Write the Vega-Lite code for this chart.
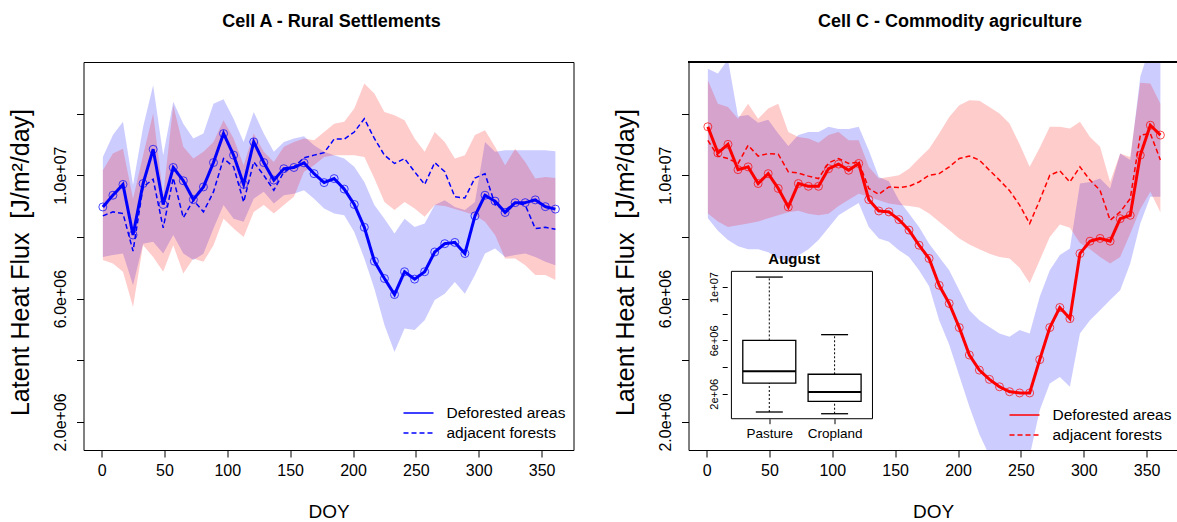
{
  "$schema": "https://vega.github.io/schema/vega-lite/v6.json",
  "background": "white",
  "autosize": {"type": "pad"},
  "padding": {"left": 7.5, "top": 12, "right": 0, "bottom": 0},
  "bounds": "flush",
  "spacing": 115,
  "config": {
    "font": "Liberation Sans",
    "view": {"stroke": "black", "strokeWidth": 1},
    "axis": {
      "domain": false, "grid": false, "ticks": true, "tickColor": "black", "tickSize": 7, "tickWidth": 1,
      "labelFont": "Liberation Sans", "labelFontSize": 16, "labelColor": "black", "labelOverlap": false, "labelFlush": false,
      "titleFont": "Liberation Sans", "titleFontSize": 19, "titleFontWeight": "normal", "titleColor": "black"
    },
    "axisX": {"labelPadding": 5, "titlePadding": 24},
    "axisY": {
      "labelAngle": 270, "labelAlign": "center", "labelBaseline": "bottom", "labelPadding": 8,
      "titleFontSize": 25,
      "titleX": -63, "titleY": 200, "titleAngle": 270, "titleAlign": "center", "titleBaseline": "middle"
    },
    "legend": {"labelFont": "Liberation Sans", "labelFontSize": 15.5, "labelColor": "black"},
    "title": {"font": "Liberation Sans", "fontSize": 18, "fontWeight": "bold", "color": "black", "offset": 31, "anchor": "middle"}
  },
  "datasets": {
    "cellA": [
      {"doy": 1, "def": 8.97e6, "adj": 8.68e6, "bHi": 10.59e6, "bLo": 7.35e6, "rHi": 10.16e6, "rLo": 7.25e6},
      {"doy": 9, "def": 9.35e6, "adj": 8.81e6, "bHi": 11.30e6, "bLo": 7.41e6, "rHi": 10.70e6, "rLo": 7.14e6},
      {"doy": 17, "def": 9.70e6, "adj": 8.76e6, "bHi": 11.73e6, "bLo": 7.46e6, "rHi": 10.86e6, "rLo": 6.87e6},
      {"doy": 25, "def": 8.06e6, "adj": 7.54e6, "bHi": 9.68e6, "bLo": 6.43e6, "rHi": 9.24e6, "rLo": 5.73e6},
      {"doy": 33, "def": 9.73e6, "adj": 9.62e6, "bHi": 11.56e6, "bLo": 7.78e6, "rHi": 10.65e6, "rLo": 7.73e6},
      {"doy": 41, "def": 10.84e6, "adj": 9.87e6, "bHi": 12.92e6, "bLo": 7.84e6, "rHi": 12.00e6, "rLo": 7.35e6},
      {"doy": 49, "def": 9.05e6, "adj": 8.29e6, "bHi": 10.65e6, "bLo": 7.46e6, "rHi": 9.35e6, "rLo": 6.87e6},
      {"doy": 57, "def": 10.25e6, "adj": 9.91e6, "bHi": 12.38e6, "bLo": 8.06e6, "rHi": 12.27e6, "rLo": 7.73e6},
      {"doy": 65, "def": 9.82e6, "adj": 8.62e6, "bHi": 11.67e6, "bLo": 7.46e6, "rHi": 10.92e6, "rLo": 6.81e6},
      {"doy": 73, "def": 9.21e6, "adj": 9.19e6, "bHi": 11.19e6, "bLo": 7.25e6, "rHi": 10.54e6, "rLo": 7.30e6},
      {"doy": 81, "def": 9.62e6, "adj": 8.81e6, "bHi": 11.35e6, "bLo": 7.45e6, "rHi": 10.76e6, "rLo": 7.19e6},
      {"doy": 89, "def": 10.41e6, "adj": 9.46e6, "bHi": 12.32e6, "bLo": 8.27e6, "rHi": 11.08e6, "rLo": 7.73e6},
      {"doy": 97, "def": 11.35e6, "adj": 10.54e6, "bHi": 12.46e6, "bLo": 9.03e6, "rHi": 11.78e6, "rLo": 8.59e6},
      {"doy": 105, "def": 10.65e6, "adj": 10.27e6, "bHi": 11.83e6, "bLo": 8.59e6, "rHi": 11.19e6, "rLo": 8.27e6},
      {"doy": 113, "def": 9.70e6, "adj": 9.13e6, "bHi": 11.08e6, "bLo": 8.49e6, "rHi": 10.32e6, "rLo": 8.00e6},
      {"doy": 121, "def": 11.08e6, "adj": 10.43e6, "bHi": 12.05e6, "bLo": 9.24e6, "rHi": 11.35e6, "rLo": 8.81e6},
      {"doy": 129, "def": 10.41e6, "adj": 10.00e6, "bHi": 11.35e6, "bLo": 9.46e6, "rHi": 10.76e6, "rLo": 9.03e6},
      {"doy": 137, "def": 9.84e6, "adj": 9.51e6, "bHi": 10.76e6, "bLo": 9.08e6, "rHi": 10.43e6, "rLo": 8.76e6},
      {"doy": 145, "def": 10.21e6, "adj": 10.11e6, "bHi": 11.08e6, "bLo": 9.35e6, "rHi": 10.92e6, "rLo": 9.03e6},
      {"doy": 153, "def": 10.25e6, "adj": 10.27e6, "bHi": 11.19e6, "bLo": 9.40e6, "rHi": 11.08e6, "rLo": 9.30e6},
      {"doy": 161, "def": 10.40e6, "adj": 10.56e6, "bHi": 11.26e6, "bLo": 9.51e6, "rHi": 11.19e6, "rLo": 10.11e6},
      {"doy": 169, "def": 10.05e6, "adj": 10.65e6, "bHi": 10.97e6, "bLo": 9.24e6, "rHi": 11.13e6, "rLo": 10.32e6},
      {"doy": 177, "def": 9.76e6, "adj": 10.73e6, "bHi": 10.76e6, "bLo": 8.92e6, "rHi": 11.40e6, "rLo": 10.59e6},
      {"doy": 185, "def": 9.89e6, "adj": 11.17e6, "bHi": 10.65e6, "bLo": 8.76e6, "rHi": 11.67e6, "rLo": 10.65e6},
      {"doy": 193, "def": 9.55e6, "adj": 11.17e6, "bHi": 10.54e6, "bLo": 8.70e6, "rHi": 11.73e6, "rLo": 10.65e6},
      {"doy": 201, "def": 9.05e6, "adj": 11.40e6, "bHi": 10.27e6, "bLo": 8.16e6, "rHi": 12.16e6, "rLo": 10.65e6},
      {"doy": 209, "def": 8.31e6, "adj": 11.83e6, "bHi": 9.78e6, "bLo": 7.30e6, "rHi": 12.97e6, "rLo": 10.59e6},
      {"doy": 217, "def": 7.21e6, "adj": 11.19e6, "bHi": 9.03e6, "bLo": 6.32e6, "rHi": 12.65e6, "rLo": 9.89e6},
      {"doy": 225, "def": 6.65e6, "adj": 10.65e6, "bHi": 8.59e6, "bLo": 5.14e6, "rHi": 12.05e6, "rLo": 9.13e6},
      {"doy": 233, "def": 6.13e6, "adj": 10.38e6, "bHi": 8.11e6, "bLo": 4.27e6, "rHi": 11.94e6, "rLo": 8.87e6},
      {"doy": 241, "def": 6.87e6, "adj": 10.54e6, "bHi": 8.59e6, "bLo": 5.03e6, "rHi": 11.78e6, "rLo": 9.13e6},
      {"doy": 249, "def": 6.63e6, "adj": 10.11e6, "bHi": 8.32e6, "bLo": 4.98e6, "rHi": 11.19e6, "rLo": 8.92e6},
      {"doy": 257, "def": 6.87e6, "adj": 9.70e6, "bHi": 8.43e6, "bLo": 5.30e6, "rHi": 10.76e6, "rLo": 8.65e6},
      {"doy": 265, "def": 7.51e6, "adj": 10.41e6, "bHi": 9.03e6, "bLo": 5.95e6, "rHi": 11.40e6, "rLo": 9.03e6},
      {"doy": 273, "def": 7.78e6, "adj": 10.11e6, "bHi": 9.19e6, "bLo": 6.16e6, "rHi": 11.08e6, "rLo": 9.00e6},
      {"doy": 281, "def": 7.82e6, "adj": 9.30e6, "bHi": 8.97e6, "bLo": 6.54e6, "rHi": 10.54e6, "rLo": 8.90e6},
      {"doy": 289, "def": 7.46e6, "adj": 9.26e6, "bHi": 8.87e6, "bLo": 6.16e6, "rHi": 10.65e6, "rLo": 8.81e6},
      {"doy": 297, "def": 8.68e6, "adj": 9.91e6, "bHi": 9.13e6, "bLo": 6.76e6, "rHi": 11.30e6, "rLo": 8.70e6},
      {"doy": 305, "def": 9.35e6, "adj": 10.05e6, "bHi": 11.08e6, "bLo": 7.46e6, "rHi": 11.46e6, "rLo": 8.49e6},
      {"doy": 313, "def": 9.16e6, "adj": 9.05e6, "bHi": 10.76e6, "bLo": 7.62e6, "rHi": 10.92e6, "rLo": 8.06e6},
      {"doy": 321, "def": 8.79e6, "adj": 8.87e6, "bHi": 10.81e6, "bLo": 7.35e6, "rHi": 10.32e6, "rLo": 7.30e6},
      {"doy": 329, "def": 9.11e6, "adj": 9.11e6, "bHi": 10.81e6, "bLo": 7.41e6, "rHi": 10.86e6, "rLo": 7.30e6},
      {"doy": 337, "def": 9.11e6, "adj": 9.03e6, "bHi": 10.81e6, "bLo": 7.46e6, "rHi": 10.43e6, "rLo": 7.08e6},
      {"doy": 345, "def": 9.20e6, "adj": 8.27e6, "bHi": 10.81e6, "bLo": 7.35e6, "rHi": 9.89e6, "rLo": 6.76e6},
      {"doy": 353, "def": 8.98e6, "adj": 8.31e6, "bHi": 10.81e6, "bLo": 7.19e6, "rHi": 9.94e6, "rLo": 6.76e6},
      {"doy": 361, "def": 8.90e6, "adj": 8.25e6, "bHi": 10.78e6, "bLo": 7.08e6, "rHi": 9.91e6, "rLo": 6.60e6}
    ],
    "cellC": [
      {"doy": 1, "def": 11.57e6, "adj": 11.13e6, "bHi": 13.45e6, "bLo": 8.6e6, "rHi": 13.08e6, "rLo": 8.76e6},
      {"doy": 9, "def": 10.72e6, "adj": 10.62e6, "bHi": 13.30e6, "bLo": 8.2e6, "rHi": 12.32e6, "rLo": 8.5e6},
      {"doy": 17, "def": 11.00e6, "adj": 10.54e6, "bHi": 13.75e6, "bLo": 7.9e6, "rHi": 12.21e6, "rLo": 8.32e6},
      {"doy": 25, "def": 10.18e6, "adj": 10.38e6, "bHi": 11.90e6, "bLo": 7.7e6, "rHi": 11.83e6, "rLo": 8.38e6},
      {"doy": 33, "def": 10.27e6, "adj": 10.97e6, "bHi": 11.95e6, "bLo": 7.6e6, "rHi": 12.32e6, "rLo": 8.43e6},
      {"doy": 41, "def": 9.73e6, "adj": 10.62e6, "bHi": 11.70e6, "bLo": 7.6e6, "rHi": 11.83e6, "rLo": 8.5e6},
      {"doy": 49, "def": 10.05e6, "adj": 10.70e6, "bHi": 11.80e6, "bLo": 7.5e6, "rHi": 12.16e6, "rLo": 8.6e6},
      {"doy": 57, "def": 9.57e6, "adj": 10.68e6, "bHi": 11.35e6, "bLo": 7.3e6, "rHi": 12.32e6, "rLo": 8.7e6},
      {"doy": 65, "def": 8.97e6, "adj": 10.11e6, "bHi": 10.95e6, "bLo": 7.2e6, "rHi": 11.40e6, "rLo": 8.8e6},
      {"doy": 73, "def": 9.73e6, "adj": 10.07e6, "bHi": 11.30e6, "bLo": 7.4e6, "rHi": 11.24e6, "rLo": 8.85e6},
      {"doy": 81, "def": 9.64e6, "adj": 9.97e6, "bHi": 11.40e6, "bLo": 7.6e6, "rHi": 11.19e6, "rLo": 8.75e6},
      {"doy": 89, "def": 9.64e6, "adj": 9.89e6, "bHi": 11.40e6, "bLo": 7.9e6, "rHi": 11.05e6, "rLo": 8.7e6},
      {"doy": 97, "def": 10.21e6, "adj": 10.40e6, "bHi": 11.57e6, "bLo": 8.3e6, "rHi": 11.30e6, "rLo": 8.75e6},
      {"doy": 105, "def": 10.36e6, "adj": 10.54e6, "bHi": 11.50e6, "bLo": 8.7e6, "rHi": 11.40e6, "rLo": 9.0e6},
      {"doy": 113, "def": 10.16e6, "adj": 10.38e6, "bHi": 11.50e6, "bLo": 8.9e6, "rHi": 11.13e6, "rLo": 9.2e6},
      {"doy": 121, "def": 10.38e6, "adj": 10.43e6, "bHi": 11.57e6, "bLo": 9.1e6, "rHi": 11.13e6, "rLo": 9.40e6},
      {"doy": 129, "def": 9.21e6, "adj": 9.57e6, "bHi": 10.81e6, "bLo": 8.32e6, "rHi": 10.27e6, "rLo": 9.30e6},
      {"doy": 137, "def": 8.84e6, "adj": 9.38e6, "bHi": 9.94e6, "bLo": 7.95e6, "rHi": 9.89e6, "rLo": 9.19e6},
      {"doy": 145, "def": 8.81e6, "adj": 9.62e6, "bHi": 9.80e6, "bLo": 7.84e6, "rHi": 9.94e6, "rLo": 9.08e6},
      {"doy": 153, "def": 8.56e6, "adj": 9.60e6, "bHi": 9.19e6, "bLo": 7.57e6, "rHi": 10.00e6, "rLo": 9.03e6},
      {"doy": 161, "def": 8.22e6, "adj": 9.64e6, "bHi": 8.76e6, "bLo": 7.35e6, "rHi": 10.21e6, "rLo": 9.00e6},
      {"doy": 169, "def": 7.73e6, "adj": 9.78e6, "bHi": 8.32e6, "bLo": 6.92e6, "rHi": 10.54e6, "rLo": 8.95e6},
      {"doy": 177, "def": 7.30e6, "adj": 10.00e6, "bHi": 7.78e6, "bLo": 6.40e6, "rHi": 10.86e6, "rLo": 8.76e6},
      {"doy": 185, "def": 6.43e6, "adj": 10.05e6, "bHi": 7.35e6, "bLo": 5.30e6, "rHi": 11.35e6, "rLo": 8.49e6},
      {"doy": 193, "def": 5.84e6, "adj": 10.27e6, "bHi": 6.92e6, "bLo": 4.50e6, "rHi": 11.89e6, "rLo": 8.22e6},
      {"doy": 201, "def": 5.06e6, "adj": 10.54e6, "bHi": 6.27e6, "bLo": 3.50e6, "rHi": 12.27e6, "rLo": 7.95e6},
      {"doy": 209, "def": 4.17e6, "adj": 10.62e6, "bHi": 5.62e6, "bLo": 2.50e6, "rHi": 12.43e6, "rLo": 7.75e6},
      {"doy": 217, "def": 3.68e6, "adj": 10.49e6, "bHi": 5.30e6, "bLo": 1.60e6, "rHi": 12.41e6, "rLo": 7.60e6},
      {"doy": 225, "def": 3.38e6, "adj": 10.16e6, "bHi": 5.08e6, "bLo": 0.90e6, "rHi": 12.21e6, "rLo": 7.45e6},
      {"doy": 233, "def": 3.14e6, "adj": 9.84e6, "bHi": 4.87e6, "bLo": 0.60e6, "rHi": 12.00e6, "rLo": 7.35e6},
      {"doy": 241, "def": 2.98e6, "adj": 9.50e6, "bHi": 4.76e6, "bLo": 0.60e6, "rHi": 11.68e6, "rLo": 7.30e6},
      {"doy": 249, "def": 2.94e6, "adj": 9.03e6, "bHi": 4.98e6, "bLo": 0.70e6, "rHi": 11.00e6, "rLo": 7.00e6},
      {"doy": 257, "def": 2.94e6, "adj": 8.43e6, "bHi": 4.87e6, "bLo": 0.90e6, "rHi": 10.27e6, "rLo": 6.50e6},
      {"doy": 265, "def": 4.02e6, "adj": 9.19e6, "bHi": 6.06e6, "bLo": 2.38e6, "rHi": 10.89e6, "rLo": 7.24e6},
      {"doy": 273, "def": 5.06e6, "adj": 10.00e6, "bHi": 6.92e6, "bLo": 3.25e6, "rHi": 11.57e6, "rLo": 8.00e6},
      {"doy": 281, "def": 5.71e6, "adj": 10.14e6, "bHi": 7.41e6, "bLo": 3.46e6, "rHi": 11.57e6, "rLo": 8.40e6},
      {"doy": 289, "def": 5.35e6, "adj": 9.78e6, "bHi": 7.62e6, "bLo": 3.14e6, "rHi": 11.51e6, "rLo": 8.30e6},
      {"doy": 297, "def": 7.46e6, "adj": 10.27e6, "bHi": 9.73e6, "bLo": 4.87e6, "rHi": 11.73e6, "rLo": 7.80e6},
      {"doy": 305, "def": 7.86e6, "adj": 9.84e6, "bHi": 9.78e6, "bLo": 5.30e6, "rHi": 11.24e6, "rLo": 7.60e6},
      {"doy": 313, "def": 7.95e6, "adj": 9.51e6, "bHi": 9.89e6, "bLo": 5.62e6, "rHi": 10.92e6, "rLo": 7.35e6},
      {"doy": 321, "def": 7.86e6, "adj": 8.54e6, "bHi": 9.57e6, "bLo": 5.95e6, "rHi": 9.78e6, "rLo": 7.14e6},
      {"doy": 329, "def": 8.59e6, "adj": 8.81e6, "bHi": 10.70e6, "bLo": 6.27e6, "rHi": 10.70e6, "rLo": 7.35e6},
      {"doy": 337, "def": 8.70e6, "adj": 9.24e6, "bHi": 10.49e6, "bLo": 7.14e6, "rHi": 10.59e6, "rLo": 8.10e6},
      {"doy": 345, "def": 10.65e6, "adj": 11.30e6, "bHi": 13.20e6, "bLo": 8.43e6, "rHi": 13.00e6, "rLo": 8.90e6},
      {"doy": 353, "def": 11.62e6, "adj": 11.35e6, "bHi": 14.20e6, "bLo": 9.30e6, "rHi": 12.97e6, "rLo": 9.46e6},
      {"doy": 361, "def": 11.30e6, "adj": 10.49e6, "bHi": 14.00e6, "bLo": 9.30e6, "rHi": 12.32e6, "rLo": 8.80e6}
    ],
    "august": [
      {"landuse": "Pasture", "pos": 1, "lo": 0.63e6, "q1": 2.80e6, "med": 3.68e6, "q3": 6.00e6, "hi": 10.75e6},
      {"landuse": "Cropland", "pos": 2, "lo": 0.50e6, "q1": 1.43e6, "med": 2.13e6, "q3": 3.46e6, "hi": 6.43e6}
    ],
    "insetTitle": [{"month": "August"}]
  },
  "resolve": {"scale": {"strokeDash": "independent"}, "legend": {"strokeDash": "independent"}},
  "hconcat": [
    {
      "width": 490,
      "height": 388,
      "title": {"text": "Cell A - Rural Settlements", "dx": 3},
      "data": {"name": "cellA"},
      "encoding": {
        "x": {
          "field": "doy", "type": "quantitative",
          "scale": {"domain": [-14.4, 375.4], "nice": false, "zero": false},
          "axis": {"title": "DOY", "values": [0, 50, 100, 150, 200, 250, 300, 350]}
        }
      },
      "layer": [
        {
          "mark": {"type": "area", "color": "#0000ff", "opacity": 0.2},
          "encoding": {
            "y": {
              "field": "bLo", "type": "quantitative", "title": "Latent Heat Flux\u00a0 [J/m²/day]",
              "scale": {"domain": [1090000, 13670000], "nice": false, "zero": false},
              "axis": {
                "values": [2000000, 4000000, 6000000, 8000000, 10000000, 12000000],
                "labelExpr": "datum.value == 2000000 ? '2.0e+06' : datum.value == 6000000 ? '6.0e+06' : datum.value == 10000000 ? '1.0e+07' : ''"
              }
            },
            "y2": {"field": "bHi"}
          }
        },
        {
          "mark": {"type": "area", "color": "#ff0000", "opacity": 0.2},
          "encoding": {
            "y": {"field": "rLo", "type": "quantitative", "title": "Latent Heat Flux\u00a0 [J/m²/day]"},
            "y2": {"field": "rHi"}
          }
        },
        {
          "mark": {"type": "line", "color": "#0000ff", "strokeWidth": 3},
          "encoding": {
            "y": {"field": "def", "type": "quantitative", "title": "Latent Heat Flux\u00a0 [J/m²/day]"},
            "strokeDash": {
              "datum": "Deforested areas", "type": "nominal",
              "scale": {"domain": ["Deforested areas", "adjacent forests"], "range": [[1, 0], [5, 3]]},
              "legend": {
                "title": null, "orient": "bottom-right", "offset": 8, "padding": 0,
                "symbolType": "stroke", "symbolSize": 900, "symbolStrokeWidth": 1.5, "symbolStrokeColor": "#0000ff",
                "labelOffset": 12, "clipHeight": 16, "rowPadding": 3
              }
            }
          }
        },
        {
          "mark": {"type": "line", "color": "#0000ff", "strokeWidth": 1.5},
          "encoding": {
            "y": {"field": "adj", "type": "quantitative", "title": "Latent Heat Flux\u00a0 [J/m²/day]"},
            "strokeDash": {"datum": "adjacent forests", "type": "nominal"}
          }
        },
        {
          "mark": {"type": "point", "shape": "circle", "filled": false, "size": 64, "strokeWidth": 1, "color": "#0000ff", "opacity": 0.7},
          "encoding": {
            "y": {"field": "def", "type": "quantitative", "title": "Latent Heat Flux\u00a0 [J/m²/day]"}
          }
        },
        {
          "data": {"values": [{"panel": "(a)"}]},
          "mark": {"type": "text", "fontSize": 26, "align": "left", "baseline": "middle", "color": "black"},
          "encoding": {
            "x": {"datum": -8.7, "type": "quantitative"},
            "y": {"datum": 12860000, "type": "quantitative"},
            "text": {"field": "panel"}
          }
        }
      ]
    },
    {
      "width": 489,
      "height": 388,
      "title": {"text": "Cell C - Commodity agriculture", "dx": 17},
      "view": {"stroke": null},
      "resolve": {
        "scale": {"x": "independent", "y": "independent"},
        "axis": {"x": "independent", "y": "independent"}
      },
      "layer": [
        {
          "data": {"name": "cellC"},
          "encoding": {
            "x": {
              "field": "doy", "type": "quantitative",
              "scale": {"domain": [-14.4, 374.6], "nice": false, "zero": false},
              "axis": {"title": "DOY", "orient": "bottom", "domain": true, "domainColor": "black", "values": [0, 50, 100, 150, 200, 250, 300, 350]}
            }
          },
          "layer": [
            {
              "mark": {"type": "area", "color": "#0000ff", "opacity": 0.2, "clip": true},
              "encoding": {
                "y": {
                  "field": "bLo", "type": "quantitative", "title": "Latent Heat Flux\u00a0 [J/m²/day]",
                  "scale": {"domain": [1090000, 13670000], "nice": false, "zero": false},
                  "axis": {
                    "orient": "left", "domain": true, "domainColor": "black",
                    "values": [2000000, 4000000, 6000000, 8000000, 10000000, 12000000],
                    "labelExpr": "datum.value == 2000000 ? '2.0e+06' : datum.value == 6000000 ? '6.0e+06' : datum.value == 10000000 ? '1.0e+07' : ''"
                  }
                },
                "y2": {"field": "bHi"}
              }
            },
            {
              "mark": {"type": "area", "color": "#ff0000", "opacity": 0.2, "clip": true},
              "encoding": {
                "y": {"field": "rLo", "type": "quantitative", "title": "Latent Heat Flux\u00a0 [J/m²/day]"},
                "y2": {"field": "rHi"}
              }
            },
            {
              "mark": {"type": "line", "color": "#ff0000", "strokeWidth": 3},
              "encoding": {
                "y": {"field": "def", "type": "quantitative", "title": "Latent Heat Flux\u00a0 [J/m²/day]"},
                "strokeDash": {
                  "datum": "Deforested areas", "type": "nominal",
                  "scale": {"domain": ["Deforested areas", "adjacent forests"], "range": [[1, 0], [5, 3]]},
                  "legend": {
                    "title": null, "orient": "bottom-right", "offset": 6, "padding": 0,
                    "symbolType": "stroke", "symbolSize": 900, "symbolStrokeWidth": 1.5, "symbolStrokeColor": "#ff0000",
                    "labelOffset": 12, "clipHeight": 16, "rowPadding": 3
                  }
                }
              }
            },
            {
              "mark": {"type": "line", "color": "#ff0000", "strokeWidth": 1.5},
              "encoding": {
                "y": {"field": "adj", "type": "quantitative", "title": "Latent Heat Flux\u00a0 [J/m²/day]"},
                "strokeDash": {"datum": "adjacent forests", "type": "nominal"}
              }
            },
            {
              "mark": {"type": "point", "shape": "circle", "filled": false, "size": 64, "strokeWidth": 1, "color": "#ff0000", "opacity": 0.7},
              "encoding": {
                "y": {"field": "def", "type": "quantitative", "title": "Latent Heat Flux\u00a0 [J/m²/day]"}
              }
            },
            {
              "mark": {"type": "rule", "color": "black", "strokeWidth": 1},
              "encoding": {
                "x": {"datum": -14.4, "type": "quantitative"},
                "x2": {"datum": 374.6},
                "y": {"datum": 13670000, "type": "quantitative"}
              }
            },
            {
              "data": {"values": [{"panel": "(b)"}]},
              "mark": {"type": "text", "fontSize": 26, "align": "left", "baseline": "middle", "color": "black"},
              "encoding": {
                "x": {"datum": -12.5, "type": "quantitative"},
                "y": {"datum": 12930000, "type": "quantitative"},
                "text": {"field": "panel"}
              }
            }
          ]
        },
        {
          "layer": [
            {
              "data": {"name": "insetTitle"},
              "mark": {"type": "rect", "fill": "white", "stroke": "black", "strokeWidth": 1},
              "encoding": {
                "x": {
                  "datum": 0.42, "type": "quantitative",
                  "scale": {"domain": [-0.1605, 7.174], "nice": false, "zero": false},
                  "axis": {
                    "orient": "bottom", "offset": -31.3, "zindex": 1, "title": null, "domain": false,
                    "values": [1, 2], "labelExpr": "datum.value == 1 ? 'Pasture' : 'Cropland'",
                    "labelFontSize": 13.5, "tickSize": 5, "labelPadding": 3
                  }
                },
                "x2": {"datum": 2.58},
                "y": {
                  "datum": 125000, "type": "quantitative",
                  "scale": {"domain": [-2220000, 26880000], "nice": false, "zero": false},
                  "axis": {
                    "orient": "left", "offset": -38.7, "zindex": 1, "title": null, "domain": false,
                    "values": [2000000, 4000000, 6000000, 8000000, 10000000],
                    "labelExpr": "datum.value == 2000000 ? '2e+06' : datum.value == 6000000 ? '6e+06' : datum.value == 10000000 ? '1e+07' : ''",
                    "labelFontSize": 11, "tickSize": 5, "labelPadding": 3
                  }
                },
                "y2": {"datum": 11180000}
              }
            },
            {
              "data": {"name": "insetTitle"},
              "mark": {"type": "text", "fontSize": 15, "fontWeight": "bold", "align": "center", "baseline": "middle", "color": "black"},
              "encoding": {
                "x": {"datum": 1.381, "type": "quantitative"},
                "y": {"datum": 12125000, "type": "quantitative"},
                "text": {"field": "month"}
              }
            },
            {
              "data": {"name": "august"},
              "mark": {"type": "rule", "color": "black", "strokeWidth": 1, "strokeDash": [2, 2]},
              "encoding": {
                "x": {"field": "pos", "type": "quantitative"},
                "y": {"field": "q3", "type": "quantitative"},
                "y2": {"field": "hi"}
              }
            },
            {
              "data": {"name": "august"},
              "mark": {"type": "rule", "color": "black", "strokeWidth": 1, "strokeDash": [2, 2]},
              "encoding": {
                "x": {"field": "pos", "type": "quantitative"},
                "y": {"field": "lo", "type": "quantitative"},
                "y2": {"field": "q1"}
              }
            },
            {
              "data": {"name": "august"},
              "mark": {"type": "bar", "size": 53, "fill": "white", "stroke": "black", "strokeWidth": 1.3},
              "encoding": {
                "x": {"field": "pos", "type": "quantitative"},
                "y": {"field": "q1", "type": "quantitative"},
                "y2": {"field": "q3"}
              }
            },
            {
              "data": {"name": "august"},
              "mark": {"type": "tick", "orient": "horizontal", "size": 53, "thickness": 2, "color": "black", "opacity": 1},
              "encoding": {
                "x": {"field": "pos", "type": "quantitative"},
                "y": {"field": "med", "type": "quantitative"}
              }
            },
            {
              "data": {"name": "august"},
              "mark": {"type": "tick", "orient": "horizontal", "size": 27, "thickness": 1.3, "color": "black", "opacity": 1},
              "encoding": {
                "x": {"field": "pos", "type": "quantitative"},
                "y": {"field": "hi", "type": "quantitative"}
              }
            },
            {
              "data": {"name": "august"},
              "mark": {"type": "tick", "orient": "horizontal", "size": 27, "thickness": 1.3, "color": "black", "opacity": 1},
              "encoding": {
                "x": {"field": "pos", "type": "quantitative"},
                "y": {"field": "lo", "type": "quantitative"}
              }
            }
          ]
        }
      ]
    }
  ]
}
